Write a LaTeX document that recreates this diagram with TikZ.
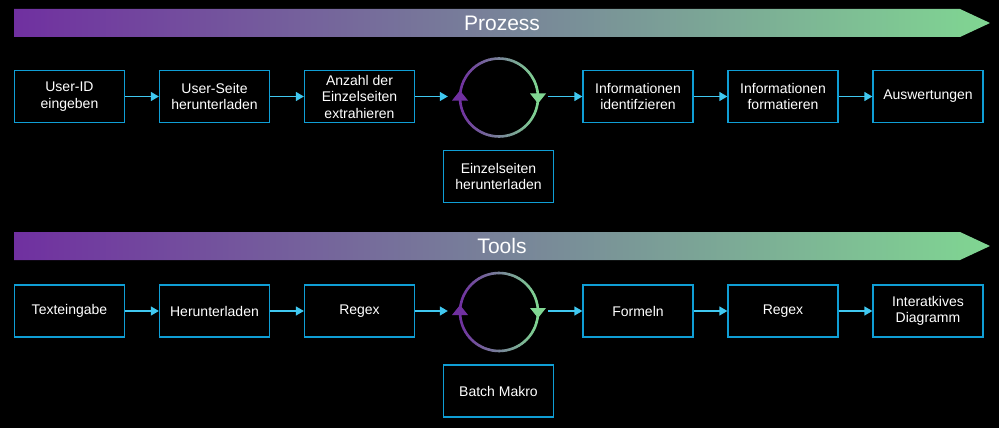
\documentclass[tikz,border=0pt]{standalone}
\usepackage{fontspec}
\setmainfont{Liberation Sans}
\usetikzlibrary{arrows.meta}
\definecolor{bpurple}{RGB}{112,48,160}
\definecolor{bgreen}{RGB}{128,214,146}
\definecolor{boxblue}{RGB}{15,158,213}
\definecolor{arrblue}{RGB}{64,200,240}
\tikzset{
  stepbox/.style={draw=boxblue, line width=1.3pt, minimum width=110pt, minimum height=52pt,
    align=center, text=white, inner sep=0pt, font=\fontsize{14}{16.5}\selectfont},
  conn/.style={draw=arrblue, line width=1.3pt, -{Triangle[width=9pt,length=8pt]}},
  bannertext/.style={text=white, font=\fontsize{21}{24}\selectfont, inner sep=0pt},
  loopnode/.style={circle, minimum size=78pt, inner sep=0pt},
}
\newcommand{\gradloop}[2]{%
  \foreach \i in {0,...,71}{%
    \pgfmathsetmacro\tt{50*(1+cos(\i*5+2.5))}%
    \draw[line width=2.6pt, color=bgreen!\tt!bpurple]
      ([shift={(\i*5:39pt)}]#1,#2) arc[start angle=\i*5, end angle=\i*5+5.6, radius=39pt];
  }%
  \fill[bpurple] (#1-39-8,#2+3) -- (#1-39+8,#2+3) -- (#1-39,#2-7) -- cycle;
  \fill[bgreen] (#1+39-8,#2-4) -- (#1+39+8,#2-4) -- (#1+39,#2+6) -- cycle;
}
\begin{document}
\begin{tikzpicture}[x=1pt,y=-1pt]
\fill[black] (0,0) rectangle (999,428);
\useasboundingbox (0,0) rectangle (999,428);
% banners
\path[left color=bpurple, right color=bgreen] (14,9) -- (960,9) -- (990,23) -- (960,37) -- (14,37) -- cycle;
\node[bannertext] (prozess) at (502,23) {Prozess};
\path[left color=bpurple, right color=bgreen] (14,232) -- (960,232) -- (990,246) -- (960,260) -- (14,260) -- cycle;
\node[bannertext] (tools) at (502,246) {Tools};
% row 1
\node[stepbox] (a1) at (69.5,96.5) {User-ID\\eingeben};
\node[stepbox] (a2) at (214.5,96.5) {User-Seite\\herunterladen};
\node[stepbox] (a3) at (359.5,96.5) {Anzahl der\\Einzelseiten\\extrahieren};
\node[loopnode] (l1) at (499,96.5) {};
\gradloop{499}{97.5}
\node[stepbox] (a4) at (498.5,176.5) {Einzelseiten\\herunterladen};
\node[stepbox] (a5) at (638,96.5) {Informationen\\identifzieren};
\node[stepbox] (a6) at (783,96.5) {Informationen\\formatieren};
\node[stepbox] (a7) at (928,96.5) {Auswertungen};
\draw[conn] (a1) -- (a2);
\draw[conn] (a2) -- (a3);
\draw[conn] (a3.east) -- ([xshift=-12pt]l1.west);
\draw[conn] ([xshift=10pt]l1.east) -- (a5.west);
\draw[conn] (a5) -- (a6);
\draw[conn] (a6) -- (a7);
% row 2
\node[stepbox] (b1) at (69.5,311) {Texteingabe};
\node[stepbox] (b2) at (214.5,311) {Herunterladen};
\node[stepbox] (b3) at (359.5,311) {Regex};
\node[loopnode] (l2) at (499,311) {};
\gradloop{499}{312}
\node[stepbox] (b4) at (498.5,391) {Batch Makro};
\node[stepbox] (b5) at (638,311) {Formeln};
\node[stepbox] (b6) at (783,311) {Regex};
\node[stepbox] (b7) at (928,311) {Interatkives\\Diagramm};
\draw[conn] (b1) -- (b2);
\draw[conn] (b2) -- (b3);
\draw[conn] (b3.east) -- ([xshift=-12pt]l2.west);
\draw[conn] ([xshift=10pt]l2.east) -- (b5.west);
\draw[conn] (b5) -- (b6);
\draw[conn] (b6) -- (b7);
\end{tikzpicture}
\end{document}
